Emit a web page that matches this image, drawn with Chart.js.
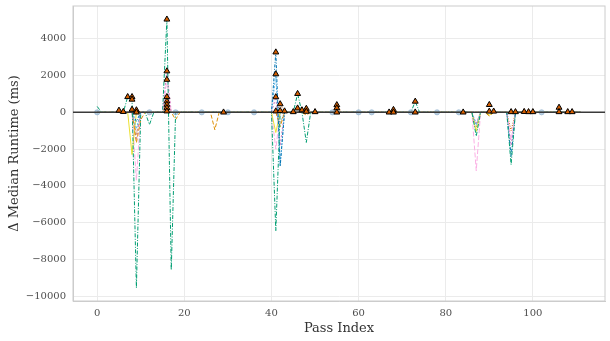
<!DOCTYPE html>
<html>
<head>
<meta charset="utf-8">
<script src="https://cdn.jsdelivr.net/npm/chart.js@4"></script>
<style>
  html, body { margin: 0; padding: 0; background: #fff; }
  #wrap { width: 610px; height: 341px; }
</style>
</head>
<body>
<div id="wrap"><canvas id="myChart"></canvas></div>
<script>
// axis limits / ticks
const X_MIN = -5.55, X_MAX = 116.55;
const Y_MIN = -10272, Y_MAX = 5788;
const X_TICKS = [0, 20, 40, 60, 80, 100];
const Y_TICKS = [-10000, -8000, -6000, -4000, -2000, 0, 2000, 4000];

// per-series deltas (pass index -> delta ms)
const greenX  = [0, 1, 6, 7, 8, 9, 10, 11, 12, 13, 15, 16, 17, 18, 40, 41, 42, 45, 46, 47, 48, 49, 72, 73, 74, 86, 87, 88, 94, 95, 96, 111];
const greenY  = [320, 0, 0, 840, 690, -9560, 0, 0, -670, 0, 0, 5060, -8580, 0, 0, -6440, 0, 0, 1010, 0, -1640, 0, 0, 590, 0, 0, -1300, 0, 0, -2850, 0, 0];
const blueX   = [0, 8, 9, 10, 40, 41, 42, 43, 94, 95, 96, 111];
const blueY   = [0, 0, -500, 0, 0, 3270, -2950, 0, 0, -2400, 0, 0];
const lblueX  = [0, 8, 9, 10, 40, 41, 42, 43, 86, 87, 88, 111];
const lblueY  = [0, 0, -900, 0, 0, 2080, -2800, 0, 0, -700, 0, 0];
const orangeX = [0, 8, 9, 10, 11, 17, 18, 19, 26, 27, 28, 41, 42, 43, 47, 48, 49, 89, 90, 91, 111];
const orangeY = [0, 0, -1660, -400, 0, 0, -400, 0, 0, -950, 0, 0, -780, 0, 0, -150, 0, 0, -200, 0, 0];
const yellowX = [0, 7, 8, 9, 40, 41, 42, 86, 87, 88, 89, 90, 91, 111];
const yellowY = [0, 0, -2300, 0, 0, -1100, 0, 0, -1040, 0, 0, -150, 0, 0];
const pinkX   = [0, 8, 9, 10, 15, 16, 17, 40, 41, 42, 86, 87, 88, 94, 95, 96, 111];
const pinkY   = [0, 0, -3700, 0, 0, 1780, 0, 0, -2000, 0, 0, -3180, 0, 0, -1500, 0, 0];
const purpleX = [0, 8, 9, 10, 15, 16, 17, 40, 41, 42, 43, 86, 87, 88, 94, 95, 96, 111];
const purpleY = [0, 0, -1500, 0, 0, 2240, 0, 0, 830, -1800, 0, 0, -600, 0, 0, -1800, 0, 0];
const brownX  = [0, 8, 9, 10, 15, 16, 17, 86, 87, 88, 111];
const brownY  = [0, 0, -1200, 0, 0, 600, 0, 0, -800, 0, 0];
const redX    = [0, 15, 16, 17, 41, 42, 43, 54, 55, 56, 94, 95, 96, 111];
const redY    = [0, 0, 420, 0, 0, 450, 0, 0, 460, 0, 0, -1000, 0, 0];
const grayX   = [0, 15, 16, 17, 41, 42, 43, 54, 55, 56, 111];
const grayY   = [0, 0, 240, 0, 0, -600, 0, 0, 230, 0, 0];

// significant changes (triangles)
const sigX = [5, 6, 7, 8, 8, 8, 9, 9, 16, 16, 16, 16, 16, 16, 16, 16, 29,
              41, 41, 41, 41, 42, 42, 43, 45, 46, 46, 47, 48, 48, 50,
              55, 55, 55, 67, 68, 68, 73, 73, 84, 90, 90, 91,
              95, 96, 98, 99, 100, 106, 106, 108, 109];
const sigY = [100, 30, 840, 840, 700, 150, 120, 0, 5060, 2240, 1780, 840, 600, 420, 240, 60, 0,
              3270, 2080, 830, 60, 450, 80, 60, 20, 1010, 220, 120, 200, 40, 20,
              400, 230, 0, 0, 140, 0, 590, 0, 0, 410, 50, 50,
              20, 20, 30, 20, 20, 260, 20, 20, 20];

// untouched passes (faint dots on zero)
const dotX = [0, 12, 18, 24, 30, 36, 54, 60, 63, 72, 78, 83, 102];

const pts = (xs, ys) => xs.map((x, i) => ({ x: x, y: ys[i] }));

const SERIES = [
  { x: greenX,  y: greenY,  color: '#029e73', dash: [4, 1.5, 1, 1.5] },
  { x: blueX,   y: blueY,   color: '#0173b2', dash: [3, 1.5, 1, 1.5] },
  { x: lblueX,  y: lblueY,  color: '#56b4e9', dash: [2, 1.5] },
  { x: orangeX, y: orangeY, color: '#de8f05', dash: [4, 2] },
  { x: yellowX, y: yellowY, color: '#ece133', dash: [] },
  { x: pinkX,   y: pinkY,   color: '#fbafe4', dash: [5, 2] },
  { x: purpleX, y: purpleY, color: '#cc78bc', dash: [2, 2] },
  { x: brownX,  y: brownY,  color: '#ca9161', dash: [3, 2] },
  { x: redX,    y: redY,    color: '#d55e00', dash: [1, 1.5] },
  { x: grayX,   y: grayY,   color: '#949494', dash: [3, 1, 1, 1] }
];

const datasets = [
  {
    data: pts(sigX, sigY),
    showLine: false,
    pointStyle: 'triangle',
    pointRadius: 3.4,
    backgroundColor: '#d55e00',
    borderColor: '#000',
    borderWidth: 1,
    order: 0
  },
  {
    data: [{ x: X_MIN, y: 0 }, { x: X_MAX, y: 0 }],
    borderColor: '#3a3a3a',
    borderWidth: 1.6,
    pointRadius: 0,
    order: 1
  },
  {
    data: dotX.map(x => ({ x: x, y: 0 })),
    showLine: false,
    pointRadius: 2.6,
    backgroundColor: 'rgba(140,175,205,0.6)',
    borderColor: 'rgba(140,175,205,0.6)',
    borderWidth: 1,
    order: 2
  }
];
SERIES.forEach((s, i) => {
  datasets.push({
    data: pts(s.x, s.y),
    borderColor: s.color,
    borderWidth: 1,
    borderDash: s.dash,
    pointRadius: 0,
    order: 3 + i
  });
});

const frame = {
  id: 'frame',
  beforeDatasetsDraw(chart) {
    const a = chart.chartArea, c = chart.ctx;
    c.save();
    c.strokeStyle = '#cccccc';
    c.lineWidth = 1;
    c.strokeRect(a.left, a.top, a.right - a.left, a.bottom - a.top);
    c.restore();
  }
};

const tickFont = { family: 'DejaVu Serif', size: 10 };
const titleFont = { family: 'DejaVu Serif', size: 13 };
const fmt = v => (v < 0 ? '\u2212' + Math.abs(v) : String(v));

const ctx = document.querySelector('#myChart');

var chart = new Chart(ctx, {
    type: 'line',
    data: { datasets: datasets },
    options: {
        responsive: true,
        maintainAspectRatio: false,
        animation: false,
        devicePixelRatio: 1,
        layout: { padding: { top: 6, right: 1, left: 7, bottom: 5 } },
        plugins: {
            legend: { display: false },
            tooltip: { enabled: false }
        },
        scales: {
            x: {
                type: 'linear',
                min: X_MIN,
                max: X_MAX,
                afterBuildTicks: s => { s.ticks = X_TICKS.map(v => ({ value: v })); },
                afterFit: s => { s.height = 35; s.paddingLeft = 0; s.paddingRight = 0; },
                grid: { color: '#ebebeb', drawTicks: false },
                border: { color: '#cccccc' },
                ticks: { padding: 6, font: tickFont, color: '#4d4d4d', maxRotation: 0, callback: fmt },
                title: { display: true, text: 'Pass Index', font: titleFont, color: '#333', padding: { top: 1, bottom: 0 } }
            },
            y: {
                min: Y_MIN,
                max: Y_MAX,
                afterBuildTicks: s => { s.ticks = Y_TICKS.map(v => ({ value: v })); },
                afterFit: s => { s.width = 66; s.paddingTop = 0; s.paddingBottom = 0; },
                grid: { color: '#ebebeb', drawTicks: false },
                border: { color: '#cccccc' },
                ticks: { padding: 7, font: tickFont, color: '#4d4d4d', callback: fmt },
                title: { display: true, text: '\u0394 Median Runtime (ms)', font: titleFont, color: '#333', padding: { top: 0, bottom: 4 } }
            }
        }
    },
    plugins: [frame]
});
</script>
</body>
</html>
